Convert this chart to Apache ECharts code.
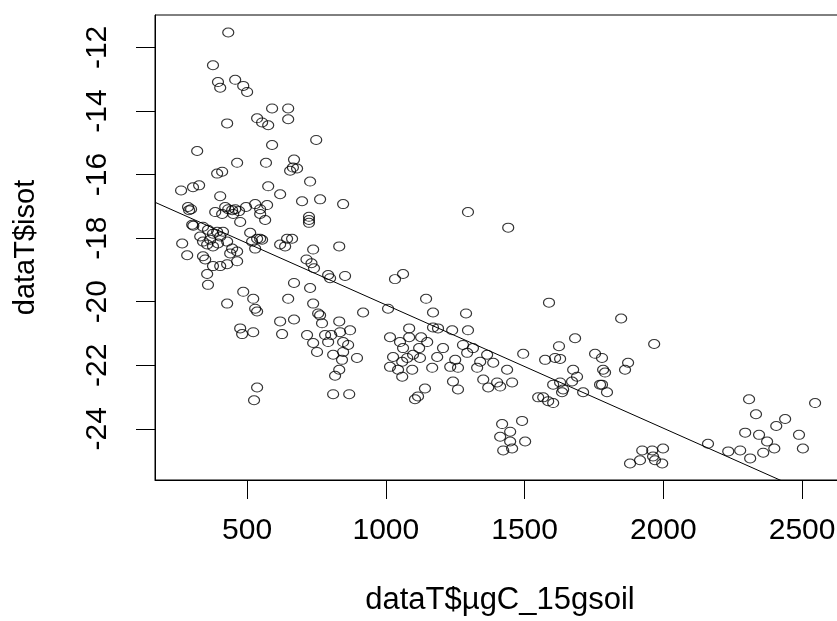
<!DOCTYPE html>
<html>
<head>
<meta charset="utf-8">
<script src="https://cdn.jsdelivr.net/npm/echarts@6/dist/echarts.min.js"></script>
<style>
html,body{margin:0;padding:0;background:#fff;overflow:hidden;}
#wrap{position:relative;width:837px;height:621px;overflow:hidden;}
#chart{position:absolute;left:0;top:0;width:857px;height:621px;}
</style>
</head>
<body>
<div id="wrap"><div id="chart"></div></div>
<script>
// x: dataT$µgC_15gsoil, y: dataT$isot
const xValues = [
432,377,395,403,457,486,500,428,590,648,648,536,554,576,590,749,320,464,568,669,
655,680,665,392,410,727,576,619,262,305,327,403,698,763,846,287,291,298,385,410,
421,432,446,457,450,471,496,529,547,572,547,565,723,723,723,475,302,306,341,359,
377,392,403,413,511,547,536,554,518,529,331,341,356,367,377,395,428,446,464,439,
266,284,341,377,403,428,464,349,356,359,619,644,637,662,832,738,714,732,741,792,
799,853,669,727,486,522,529,536,428,648,738,756,763,669,619,626,475,482,522,716,
738,752,770,781,792,803,832,835,846,810,842,832,817,536,525,810,868,
1296,1441,1033,1062,1145,918,1008,1170,1289,
871,864,896,846,1015,1051,1062,1084,1084,1127,1120,1149,1026,1059,1077,1098,1123,1015,1044,1059,
1095,1170,1188,1239,1296,1206,1185,1167,1141,1116,1105,1232,1250,1260,1278,1293,1314,1329,1242,1260,
1340,1365,1387,1437,1351,1369,1401,1412,1455,1495,1549,1419,1491,1448,1412,1502,1448,1423,1455,
1588,1848,1682,1967,1624,1574,1610,1628,1754,1779,1783,1790,1779,1772,1797,1873,1862,1675,1689,1671,
1603,1628,1639,1635,1711,1567,1585,1603,1880,1924,1916,1960,1963,1999,1996,1970,
2309,2334,2547,2439,2407,2161,2234,2277,2313,2295,2345,2374,2400,2360,2489,2503
];
const yValues = [
-11.53,-12.56,-13.09,-13.27,-13.02,-13.21,-13.40,-14.39,-13.92,-13.92,-14.26,-14.23,-14.36,-14.45,-15.07,-14.91,-15.26,-15.63,-15.63,-15.53,
-15.88,-15.81,-15.78,-15.97,-15.91,-16.22,-16.37,-16.62,-16.50,-16.40,-16.34,-16.68,-16.84,-16.78,-16.93,-17.02,-17.12,-17.09,-17.18,-17.24,
-17.02,-17.09,-17.12,-17.09,-17.24,-17.15,-17.02,-16.93,-17.09,-16.96,-17.24,-17.43,-17.33,-17.43,-17.52,-17.49,-17.58,-17.61,-17.64,-17.74,
-17.86,-17.80,-17.95,-17.80,-17.83,-18.02,-18.02,-18.05,-18.11,-18.33,-17.95,-18.11,-18.20,-18.05,-18.26,-18.17,-18.11,-18.33,-18.42,-18.48,
-18.17,-18.54,-18.57,-18.88,-18.88,-18.82,-18.73,-18.67,-19.13,-19.47,-18.20,-18.02,-18.26,-18.02,-18.26,-18.36,-18.67,-18.79,-18.95,-19.16,
-19.26,-19.19,-19.41,-19.57,-19.69,-19.91,-20.22,-20.31,-20.06,-19.91,-20.06,-20.37,-20.43,-20.56,-20.62,-21.02,-20.84,-21.02,-20.96,-21.05,
-21.30,-21.58,-20.68,-21.05,-21.27,-21.05,-20.62,-20.96,-21.27,-21.67,-21.83,-22.14,-22.33,-22.70,-23.10,-22.91,-22.91,
-17.18,-17.67,-19.29,-19.13,-19.91,-20.34,-20.22,-20.34,-20.37,
-20.90,-21.36,-21.77,-21.58,-21.12,-21.27,-21.46,-20.84,-21.12,-21.12,-21.46,-21.27,-21.74,-21.89,-21.77,-21.67,-21.77,-22.05,-22.14,-22.36,
-22.14,-20.81,-20.84,-20.90,-20.90,-21.46,-21.74,-22.08,-22.73,-22.98,-23.07,-22.05,-21.83,-22.08,-21.36,-21.61,-21.46,-22.08,-22.51,-22.76,
-21.89,-21.67,-21.92,-22.14,-22.45,-22.70,-22.54,-22.67,-22.54,-21.64,-23.01,-23.85,-23.75,-24.09,-24.25,-24.40,-24.40,-24.68,-24.62,
-20.03,-20.53,-21.15,-21.33,-21.40,-21.83,-21.77,-21.80,-21.64,-21.77,-22.14,-22.23,-22.61,-22.61,-22.85,-21.92,-22.14,-22.14,-22.36,-22.51,
-22.61,-22.54,-22.76,-22.85,-22.85,-23.01,-23.13,-23.19,-25.09,-24.68,-24.99,-24.68,-24.87,-24.62,-25.09,-24.99,
-23.07,-23.54,-23.19,-23.69,-23.91,-24.47,-24.71,-24.68,-24.93,-24.12,-24.19,-24.40,-24.62,-24.75,-24.19,-24.62
];
const xTicks = [500, 1000, 1500, 2000, 2500];
const yTicks = [-24, -22, -20, -18, -16, -14, -12];
const fitIntercept = -16.22;   // abline(lm)
const fitSlope = -0.00388;
const xTitle = 'dataT$µgC_15gsoil';
const yTitle = 'dataT$isot';

const xMin = 168, xMax = 2698, yMin = -25.61, yMax = -10.98;

const points = xValues.map((x, i) => [x, yValues[i]]);
const fitLine = [[xMin, fitIntercept + fitSlope * xMin], [xMax, fitIntercept + fitSlope * xMax]];

const FONT = '"Liberation Sans", Arial, sans-serif';
const chart = echarts.init(document.getElementById('chart'), null, {renderer: 'canvas'});
chart.setOption({
  backgroundColor: '#fff',
  animation: false,
  grid: {left: 155, top: 15, right: 0, bottom: 134, show: true, borderColor: '#000', borderWidth: 1, backgroundColor: 'transparent', containLabel: false},
  xAxis: {
    type: 'value', min: xMin, max: xMax,
    name: xTitle, nameLocation: 'middle', nameGap: 105,
    nameTextStyle: {fontFamily: FONT, fontSize: 31, color: '#000', padding: [0, 12, 0, 0]},
    axisLine: {show: true, onZero: false, lineStyle: {color: '#000', width: 1}},
    axisTick: {show: true, inside: false, length: 19, customValues: xTicks, lineStyle: {color: '#000', width: 1}},
    axisLabel: {show: true, customValues: xTicks, margin: 36, fontFamily: FONT, fontSize: 30, color: '#000', formatter: v => String(v)},
    splitLine: {show: false}
  },
  yAxis: {
    type: 'value', min: yMin, max: yMax,
    name: yTitle, nameLocation: 'middle', nameGap: 115, nameRotate: 90,
    nameTextStyle: {fontFamily: FONT, fontSize: 29, color: '#000'},
    axisLine: {show: true, onZero: false, lineStyle: {color: '#000', width: 1}},
    axisTick: {show: true, inside: false, length: 19, customValues: yTicks, lineStyle: {color: '#000', width: 1}},
    axisLabel: {show: true, customValues: yTicks, rotate: 90, margin: 42, fontFamily: FONT, fontSize: 30, color: '#000', formatter: v => String(v)},
    splitLine: {show: false}
  },
  series: [
    {
      type: 'scatter',
      data: points,
      symbol: 'path://M0,5A5,5,0,1,0,10,5A5,5,0,1,0,0,5Z',
      symbolSize: [11, 9],
      itemStyle: {color: 'rgba(0,0,0,0)', borderColor: '#000', borderWidth: 1.1},
      emphasis: {disabled: true},
      silent: true
    },
    {
      type: 'line',
      data: fitLine,
      symbol: 'none',
      clip: true,
      lineStyle: {color: '#000', width: 1},
      silent: true
    }
  ]
});
</script>
</body>
</html>
